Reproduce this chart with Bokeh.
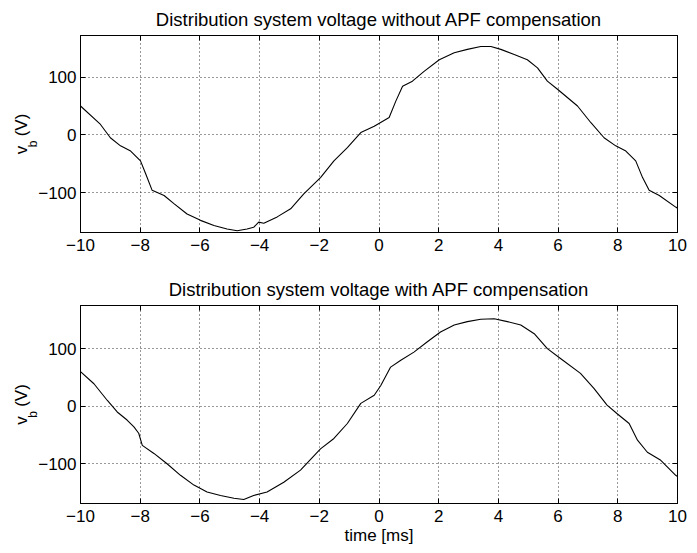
from bokeh.plotting import figure
from bokeh.layouts import column
from bokeh.models import LinearAxis, FixedTicker, CustomJSTickFormatter, Range1d
from bokeh.embed import file_html
from bokeh.resources import INLINE

# ---- data ----
t_top = [-10, -9.33, -9.0, -8.66, -8.32, -7.99, -7.82, -7.6, -7.2, -6.87, -6.43, -5.98,
         -5.53, -5.09, -4.75, -4.42, -4.2, -4.03, -3.86, -3.41, -2.96, -2.52, -1.96, -1.51,
         -1.06, -0.61, -0.16, 0.34, 0.56, 0.79, 1.12, 1.51, 2.02, 2.52, 2.96, 3.41, 3.75,
         4.08, 4.53, 4.97, 5.31, 5.64, 5.98, 6.65, 7.1, 7.54, 7.93, 8.27, 8.6, 8.83, 9.05,
         9.39, 9.94, 10]
v_top = [50, 18, -5, -19, -28, -45, -67, -96, -105, -119, -137, -148,
         -157, -163, -166, -163, -160, -151, -153, -142, -128, -102, -74, -45,
         -22, 4, 15, 30, 58, 84, 93, 110, 130, 142, 148, 153, 153,
         148, 139, 130, 116, 93, 79, 50, 21, -5, -19, -28, -45, -74, -96,
         -105, -125, -127]

t_bot = [-10, -9.55, -9.1, -8.77, -8.44, -8.21, -8.05, -7.93, -7.54, -7.1, -6.65, -6.2,
         -5.76, -5.31, -4.86, -4.53, -4.2, -3.75, -3.19, -2.63, -1.96, -1.51, -1.06, -0.61,
         -0.16, 0.06, 0.39, 0.73, 1.17, 1.62, 2.06, 2.52, 2.96, 3.41, 3.86, 4.3, 4.75,
         5.2, 5.64, 6.08, 6.75, 7.2, 7.64, 7.98, 8.38, 8.66, 8.99, 9.44, 9.94, 10]
v_bot = [60, 39, 10, -10, -24, -36, -47, -68, -82, -100, -120, -137,
         -149, -155, -160, -162, -155, -149, -132, -111, -74, -56, -30, 5,
         19, 36, 68, 80, 94, 112, 129, 141, 147, 151, 152, 147, 141,
         126, 100, 83, 57, 31, 2, -13, -30, -59, -80, -94, -120, -122]

x_ticks = [-10, -8, -6, -4, -2, 0, 2, 4, 6, 8, 10]
y_ticks = [-100, 0, 100]
title_top = "Distribution system voltage without APF compensation"
title_bot = "Distribution system voltage with APF compensation"
x_label = "time [ms]"
NB = "\u00a0"
y_label_main = "v" + NB * 2 + "(V)"
y_label_sub = "b" + NB * 6

FONT = "Liberation Sans"
TICK_FS = "17px"

fmt_code = "return tick < 0 ? '\u2212' + Math.abs(tick) : String(tick);"


def make(t, v, title, yr, height, bottom_border, xlabel=None):
    p = figure(width=697, height=height, x_range=Range1d(-10, 10), y_range=Range1d(*yr),
               output_backend="svg", toolbar_location=None,
               min_border_left=80, min_border_right=20, min_border_top=34,
               min_border_bottom=bottom_border)
    p.background_fill_color = "white"
    p.border_fill_color = "white"
    p.outline_line_color = "black"
    p.outline_line_width = 1

    p.title.text = title
    p.title.align = "center"
    p.title.text_font = FONT
    p.title.text_font_size = "18.5px"
    p.title.text_font_style = "normal"
    p.title.text_color = "black"
    p.title.standoff = 12

    for ax in p.xaxis:
        ax.ticker = FixedTicker(ticks=x_ticks)
    for ax in p.yaxis:
        ax.ticker = FixedTicker(ticks=y_ticks)
    for ax in list(p.xaxis) + list(p.yaxis):
        ax.formatter = CustomJSTickFormatter(code=fmt_code)
        ax.major_tick_in = 5
        ax.major_tick_out = 0
        ax.minor_tick_in = 0
        ax.minor_tick_out = 0
        ax.major_label_text_font = FONT
        ax.major_label_text_font_size = TICK_FS
        ax.major_label_text_color = "black"
        ax.axis_line_color = "black"
        ax.major_tick_line_color = "black"
    p.xaxis.major_label_standoff = 6
    p.yaxis.major_label_standoff = 4

    if xlabel:
        p.xaxis.axis_label = xlabel
        p.xaxis.axis_label_text_font = FONT
        p.xaxis.axis_label_text_font_size = "17px"
        p.xaxis.axis_label_text_font_style = "normal"
        p.xaxis.axis_label_text_color = "black"
        p.xaxis.axis_label_standoff = 1

    # y label "v_b (V)": subscript on its own label, main text on another
    sub_ax = LinearAxis(ticker=FixedTicker(ticks=[]), axis_line_color=None,
                        major_tick_line_color=None, minor_tick_line_color=None,
                        axis_label=y_label_sub, axis_label_text_font=FONT,
                        axis_label_text_font_size="12px", axis_label_text_font_style="normal",
                        axis_label_text_color="black", axis_label_standoff=-4)
    main_ax = LinearAxis(ticker=FixedTicker(ticks=[]), axis_line_color=None,
                         major_tick_line_color=None, minor_tick_line_color=None,
                         axis_label=y_label_main, axis_label_text_font=FONT,
                         axis_label_text_font_size="17px", axis_label_text_font_style="normal",
                         axis_label_text_color="black", axis_label_standoff=-8)
    p.add_layout(sub_ax, "left")
    p.add_layout(main_ax, "left")

    # mirror axes (top and right) with inward ticks, no labels
    blank = "return '';"
    top_ax = LinearAxis(ticker=FixedTicker(ticks=x_ticks), major_tick_in=5, major_tick_out=0,
                        minor_tick_in=0, minor_tick_out=0,
                        formatter=CustomJSTickFormatter(code=blank),
                        major_label_standoff=0, axis_line_color="black")
    right_ax = LinearAxis(ticker=FixedTicker(ticks=y_ticks), major_tick_in=5, major_tick_out=0,
                          minor_tick_in=0, minor_tick_out=0,
                          formatter=CustomJSTickFormatter(code=blank),
                          major_label_standoff=0, axis_line_color="black")
    p.add_layout(top_ax, "above")
    p.add_layout(right_ax, "right")

    p.xgrid.grid_line_color = "black"
    p.ygrid.grid_line_color = "black"
    p.xgrid.grid_line_dash = "1 3"
    p.ygrid.grid_line_dash = "1 3"
    p.xgrid.grid_line_alpha = 0.8
    p.ygrid.grid_line_alpha = 0.8

    p.line(t, v, line_color="black", line_width=1.1)
    return p


p1 = make(t_top, v_top, title_top, (-169, 172), 270, 38)
p2 = make(t_bot, v_bot, title_bot, (-169, 175), 283, 50, xlabel=x_label)

layout = column(p1, p2, spacing=0)
open("out.html", "w").write(file_html(layout, INLINE))
